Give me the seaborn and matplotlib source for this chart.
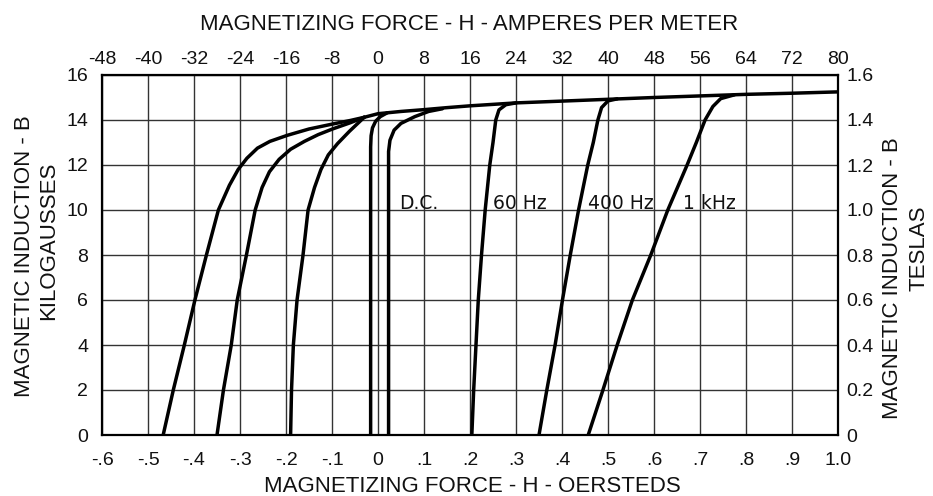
import pandas as pd
import numpy as np
import matplotlib
matplotlib.use("Agg")
import matplotlib.pyplot as plt
import seaborn as sns

# saturation line shared by all the loops (oersteds, kilogausses)
top_h = [-0.03, 0.0, 0.05, 0.1, 0.15, 0.2, 0.3, 0.4, 0.5, 0.6, 0.7, 0.8, 0.9, 1.0]
top_b = [14.12, 14.28, 14.38, 14.46, 14.55, 14.63, 14.76, 14.84, 14.92, 15.0, 15.07, 15.14, 15.19, 15.25]

# descending (left) branches, from B = 0 up to the saturation line
khz_left_h = [-0.467, -0.445, -0.421, -0.398, -0.373, -0.347, -0.323, -0.304, -0.285, -0.262, -0.235, -0.197, -0.15, -0.099, -0.06, -0.03]
khz_left_b = [0, 2, 4, 6, 8, 10, 11.1, 11.8, 12.3, 12.75, 13.05, 13.32, 13.6, 13.82, 13.98, 14.12]
hz400_left_h = [-0.35, -0.336, -0.319, -0.306, -0.286, -0.267, -0.252, -0.236, -0.215, -0.19, -0.16, -0.13, -0.099, -0.06, -0.03]
hz400_left_b = [0, 2, 4, 6, 8, 10, 11.0, 11.7, 12.25, 12.7, 13.05, 13.35, 13.6, 13.88, 14.12]
hz60_left_h = [-0.19, -0.188, -0.184, -0.176, -0.163, -0.152, -0.138, -0.124, -0.108, -0.088, -0.062, -0.03]
hz60_left_b = [0, 2, 4, 6, 8, 10, 11.0, 11.8, 12.45, 12.95, 13.5, 14.12]
dc_left_h = [-0.016, -0.016, -0.015, -0.012, -0.005, 0.005, 0.02]
dc_left_b = [0, 12.8, 13.3, 13.65, 13.95, 14.15, 14.32]

# ascending (right) branches
dc_right_h = [0.023, 0.023, 0.026, 0.035, 0.05, 0.08, 0.11, 0.14]
dc_right_b = [0, 12.6, 13.1, 13.55, 13.85, 14.15, 14.38, 14.5]
hz60_right_h = [0.204, 0.208, 0.213, 0.218, 0.225, 0.233, 0.243, 0.25, 0.256, 0.263, 0.278, 0.3]
hz60_right_b = [0, 2, 4, 6, 8, 10, 12, 13, 14, 14.45, 14.68, 14.76]
hz400_right_h = [0.35, 0.367, 0.385, 0.401, 0.418, 0.436, 0.456, 0.468, 0.478, 0.486, 0.5, 0.52]
hz400_right_b = [0, 2, 4, 6, 8, 10, 12, 13, 14, 14.55, 14.85, 14.94]
khz_right_h = [0.457, 0.489, 0.52, 0.553, 0.593, 0.63, 0.672, 0.692, 0.711, 0.728, 0.745, 0.775]
khz_right_b = [0, 2, 4, 6, 8, 10, 12, 13, 14, 14.6, 14.95, 15.12]

loop_names = ["D.C.", "60 Hz", "400 Hz", "1 kHz"]
label_h = [0.045, 0.25, 0.457, 0.664]
label_b = [10.05, 10.05, 10.05, 10.05]

oe_ticks = [-0.6, -0.5, -0.4, -0.3, -0.2, -0.1, 0, 0.1, 0.2, 0.3, 0.4, 0.5, 0.6, 0.7, 0.8, 0.9, 1.0]
oe_labels = ["-.6", "-.5", "-.4", "-.3", "-.2", "-.1", "0", ".1", ".2", ".3", ".4", ".5", ".6", ".7", ".8", ".9", "1.0"]
am_ticks = list(range(-48, 81, 8))
kg_ticks = list(range(0, 17, 2))
t_ticks = [0, 0.2, 0.4, 0.6, 0.8, 1.0, 1.2, 1.4, 1.6]
t_labels = ["0", "0.2", "0.4", "0.6", "0.8", "1.0", "1.2", "1.4", "1.6"]

# one long table, one "curve" id per branch
pieces = [
    ("top", top_h, top_b),
    ("khz_l", khz_left_h, khz_left_b),
    ("400_l", hz400_left_h, hz400_left_b),
    ("60_l", hz60_left_h, hz60_left_b),
    ("dc_l", dc_left_h, dc_left_b),
    ("dc_r", dc_right_h, dc_right_b),
    ("60_r", hz60_right_h, hz60_right_b),
    ("400_r", hz400_right_h, hz400_right_b),
    ("khz_r", khz_right_h, khz_right_b),
]
frames = []
for name, h, b in pieces:
    frames.append(pd.DataFrame({"H": h, "B": b, "curve": name}))
df = pd.concat(frames, ignore_index=True)

sns.set_style("white")
plt.rcParams["font.family"] = ["Liberation Sans", "DejaVu Sans"]
plt.rcParams["axes.unicode_minus"] = False
tick_font = ["Liberation Sans Narrow", "Liberation Sans"]
ink = "#111111"

fig = plt.figure(figsize=(9.33, 4.96), dpi=100)
ax = fig.add_axes([102 / 933, 61 / 496, 736 / 933, 360 / 496])

sns.lineplot(data=df, x="H", y="B", units="curve", estimator=None, sort=False,
             color="black", linewidth=2.5, ax=ax, zorder=5)

ax.set_xlim(-0.6, 1.0)
ax.set_ylim(0, 16)
ax.set_xticks(oe_ticks)
ax.set_xticklabels(oe_labels, family=tick_font)
ax.set_yticks(kg_ticks)
ax.set_yticklabels([str(v) for v in kg_ticks], family=tick_font)
ax.grid(True, color="#333333", linewidth=1.0)
ax.tick_params(length=0, labelsize=14, colors=ink)
ax.tick_params(axis="x", pad=12)
ax.tick_params(axis="y", pad=10)
ax.set_xlabel("")
ax.set_ylabel("")
for s in ax.spines.values():
    s.set_color("black")
    s.set_linewidth(1.6)

for name, h, b in zip(loop_names, label_h, label_b):
    ax.text(h, b, name, fontsize=13.5, family="DejaVu Sans", ha="left", va="baseline",
            color=ink, zorder=6)

# top axis in amperes per meter, right axis in teslas
ax_top = ax.twiny()
ax_top.set_xlim(-48, 80)
ax_top.set_xticks(am_ticks)
ax_top.set_xticklabels([str(v) for v in am_ticks], family=tick_font)
ax_top.tick_params(length=0, labelsize=14, pad=5, colors=ink)

ax_right = ax.twinx()
ax_right.set_ylim(0, 1.6)
ax_right.set_yticks(t_ticks)
ax_right.set_yticklabels(t_labels, family=tick_font)
ax_right.tick_params(length=0, labelsize=14, pad=6, colors=ink)
for a in (ax_top, ax_right):
    for s in a.spines.values():
        s.set_visible(False)

fig.text(469 / 933, 1 - 24 / 496, "MAGNETIZING FORCE - H - AMPERES PER METER",
         ha="center", va="center", fontsize=16, color=ink)
fig.text(472 / 933, 1 - 486 / 496, "MAGNETIZING FORCE - H - OERSTEDS",
         ha="center", va="center", fontsize=16, color=ink)
fig.text(25 / 933, 1 - 256 / 496, "MAGNETIC INDUCTION - B",
         ha="center", va="center", rotation=90, fontsize=16, color=ink)
fig.text(49 / 933, 1 - 241 / 496, "KILOGAUSSES",
         ha="center", va="center", rotation=90, fontsize=16, color=ink)
fig.text(893 / 933, 1 - 278 / 496, "MAGNETIC INDUCTION - B",
         ha="center", va="center", rotation=90, fontsize=16, color=ink)
fig.text(919 / 933, 1 - 248 / 496, "TESLAS",
         ha="center", va="center", rotation=90, fontsize=16, color=ink)

fig.savefig("out.png", dpi=100)
